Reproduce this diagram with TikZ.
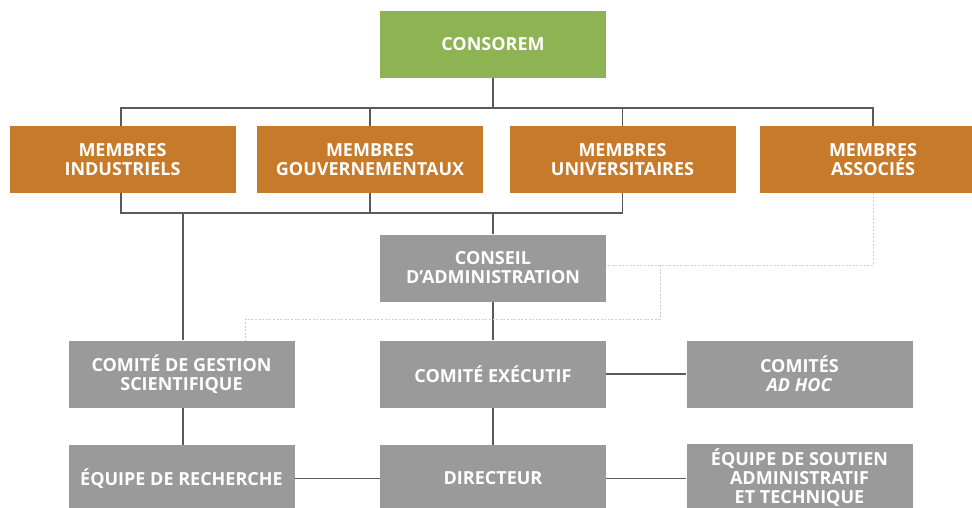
\documentclass[tikz,border=0pt]{standalone}
\usepackage{fontspec}
\setmainfont{Open Sans}
\usepackage{tikz}
\usetikzlibrary{positioning}
\usetikzlibrary{calc}
\definecolor{rootgreen}{HTML}{8DB352}
\definecolor{memberorange}{HTML}{C87A2B}
\definecolor{boardgrey}{HTML}{9A9A9A}
\definecolor{linkgrey}{HTML}{5A5A5A}
\definecolor{dotgrey}{HTML}{CFCFCF}
\newcommand\boxwd{226pt}
\newcommand\boxht{67pt}
\newcommand\linewd{1.1pt}
\tikzset{
  unit/.style={minimum width=\boxwd, minimum height=\boxht, inner sep=0pt,
    text=white, align=center, font=\bfseries\fontsize{18}{19}\selectfont},
  root/.style={unit, fill=rootgreen},
  member/.style={unit, fill=memberorange},
  board/.style={unit, fill=boardgrey},
  link/.style={draw=linkgrey, line width=\linewd},
  dotlink/.style={draw=dotgrey, line width=.9pt, dash pattern=on 2pt off 1.6pt}
}

\begin{document}
\begin{tikzpicture}[x=1pt,y=-1pt]
  \useasboundingbox (0,0) rectangle (972,507);
  % top level
  \node[root] (consorem) at (493,44.5) {CONSOREM};
  % members
  \node[member] (indus) at (122.5,159.5) {MEMBRES\\INDUSTRIELS};
  \node[member] (gouv)  at (370,159.5)   {MEMBRES\\GOUVERNEMENTAUX};
  \node[member] (univ)  at (622.5,159.5) {MEMBRES\\UNIVERSITAIRES};
  \node[member] (assoc) at (873,159.5)   {MEMBRES\\ASSOCIÉS};
  % governance
  \node[board] (conseil) at (493,268)   {CONSEIL\\D’ADMINISTRATION};
  \node[board] (gestion) at (181.5,374) {COMITÉ DE GESTION\\SCIENTIFIQUE};
  \node[board] (execu)   at (493,374)   {COMITÉ EXÉCUTIF};
  \node[board] (adhoc)   at (799.5,374) {COMITÉS\\\textit{AD HOC}};
  \node[board] (equipe)  at (181.5,478.5) {ÉQUIPE DE RECHERCHE};
  \node[board] (direct)  at (493,478.5)   {DIRECTEUR};
  \node[board] (soutien) at (799.5,477.5) {ÉQUIPE DE SOUTIEN\\ADMINISTRATIF\\ET TECHNIQUE};
  % buses
  \coordinate (topbus) at (0,108);
  \coordinate (lowbus) at (0,213);
  \coordinate (dotbus) at (0,319);
  % solid links
  \draw[link] (consorem.south) -- (consorem |- topbus);
  \draw[link] ([xshift=-1.5pt]indus.north) -- ([xshift=-1.5pt]indus.north |- topbus)
    -- (assoc |- topbus) -- (assoc.north);
  \draw[link] (gouv.north) -- (gouv |- topbus);
  \draw[link] (univ.north) -- (univ |- topbus);
  \draw[link] ([xshift=-1.5pt]indus.south) -- ([xshift=-1.5pt]indus.south |- lowbus)
    -- (univ |- lowbus) -- (univ.south);
  \draw[link] (gouv.south) -- (gouv |- lowbus);
  \draw[link] ([xshift=1.5pt]gestion.north) -- ([xshift=1.5pt]gestion.north |- lowbus);
  \draw[link] (conseil.north) -- (conseil |- lowbus);
  \draw[link] (conseil) -- (execu);
  \draw[link] (execu) -- (direct);
  \draw[link] ([xshift=1.5pt]gestion.south) -- ([xshift=1.5pt]equipe.north);
  \draw[link] (execu.east) -- (execu.east -| adhoc.west);
  \draw[link] (equipe.east) -- (direct.west);
  \draw[link] (direct.east) -- (direct.east -| soutien.west);
  % dotted links
  \draw[dotlink] (assoc.south) |- ([yshift=3pt]conseil.east);
  \coordinate (split) at ([xshift=54pt,yshift=3pt]conseil.east);
  \draw[dotlink] (split) -- (split |- dotbus) -| ([xshift=64pt]gestion.north);
\end{tikzpicture}
\end{document}
